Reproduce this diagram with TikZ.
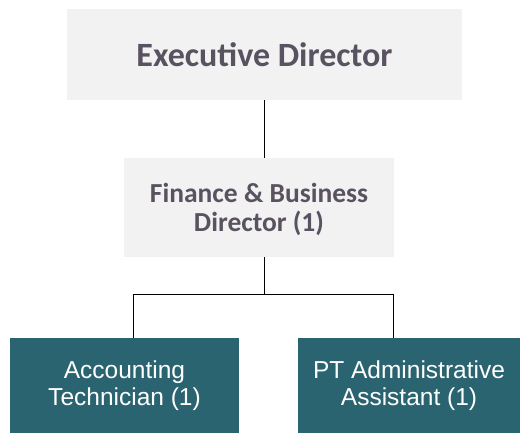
\documentclass[tikz,border=0pt]{standalone}
\usepackage{fontspec}
\setmainfont{Carlito}
\newfontfamily\boxfont{Liberation Sans}
\usetikzlibrary{positioning}
\definecolor{boxgray}{HTML}{F2F2F2}
\definecolor{textgray}{HTML}{595260}
\definecolor{teal}{HTML}{2A6470}

\begin{document}
\begin{tikzpicture}[x=1pt,y=-1pt,
    head/.style={fill=boxgray,text=textgray,font=\bfseries,align=center,inner sep=0pt},
    staff/.style={fill=teal,text=white,font=\boxfont\fontsize{24.5}{26.5}\selectfont,align=center,inner sep=0pt},
    link/.style={draw=black,line width=1pt}]
\useasboundingbox (0,0) rectangle (520,433);
\node [head,minimum width=395pt,minimum height=91pt,font=\bfseries\fontsize{34}{40}\selectfont] (exec) at (264.5,54.5) {Executive Director};
\node [head,minimum width=270pt,minimum height=99pt,font=\bfseries\fontsize{27.5}{29.5}\selectfont,text depth=0pt] (fin) at (259,207.5) {Finance \& Business\\Director (1)};
\node [staff,minimum width=229pt,minimum height=95pt] (acc) at (124.5,385.5) {Accounting\\Technician (1)};
\node [staff,minimum width=222pt,minimum height=95pt] (pta) at (409,385.5) {PT Administrative\\Assistant (1)};
\coordinate (hub) at (264,294);
\coordinate (acctop) at (133,338);
\coordinate (ptatop) at (393,338);
%connectors
\draw[link] (exec.south -| hub) -- (fin.north -| hub);
\draw[link] (fin.south -| hub) -- (hub);
\draw[link] (acctop) -- (acctop |- hub) -- (ptatop |- hub) -- (ptatop);
\end{tikzpicture}
\end{document}
